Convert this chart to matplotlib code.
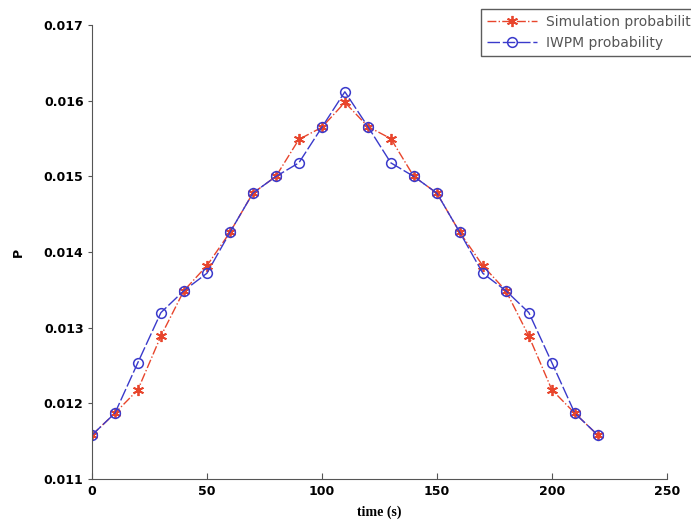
import matplotlib
matplotlib.use("Agg")
import matplotlib.pyplot as plt

time_s = [0, 10, 20, 30, 40, 50, 60, 70, 80, 90, 100, 110,
          120, 130, 140, 150, 160, 170, 180, 190, 200, 210, 220]

sim_prob = [0.01158, 0.01187, 0.01218, 0.01289, 0.01349, 0.01382, 0.01426, 0.01478,
            0.01500, 0.01549, 0.01565, 0.01598, 0.01566, 0.01550, 0.01500, 0.01478,
            0.01426, 0.01382, 0.01349, 0.01289, 0.01218, 0.01187, 0.01158]

iwpm_prob = [0.01158, 0.01187, 0.01254, 0.01320, 0.01349, 0.01372, 0.01426, 0.01478,
             0.01500, 0.01518, 0.01565, 0.01612, 0.01566, 0.01518, 0.01500, 0.01478,
             0.01426, 0.01372, 0.01349, 0.01320, 0.01254, 0.01187, 0.01158]

fig = plt.figure(figsize=(6.91, 5.32), dpi=100)
ax = fig.add_axes([0.133, 0.0996, 0.832, 0.853])

# asterisk marker: 6 spokes
ax.plot(time_s, sim_prob, color="#e8452c", linestyle="-.", linewidth=1.0,
        marker=(6, 2, 0), markersize=8, markeredgewidth=1.3,
        label="Simulation probability")
ax.plot(time_s, iwpm_prob, color="#3a3acb", linestyle=(0, (9, 2)), linewidth=1.0,
        marker="o", markersize=7, markerfacecolor="none", markeredgewidth=1.1,
        label="IWPM probability")

ax.set_xlim(0, 250)
ax.set_ylim(0.011, 0.017)
ax.set_xticks([0, 50, 100, 150, 200, 250])
ax.set_yticks([0.011, 0.012, 0.013, 0.014, 0.015, 0.016, 0.017])
ax.set_yticklabels(["0.011", "0.012", "0.013", "0.014", "0.015", "0.016", "0.017"])

ax.spines["top"].set_visible(False)
ax.spines["right"].set_visible(False)
ax.spines["left"].set_color("#555555")
ax.spines["bottom"].set_color("#555555")
ax.tick_params(axis="x", direction="in", length=4, color="#555555", pad=4)
ax.tick_params(axis="y", direction="out", length=3, color="#555555", pad=3)
for lbl in ax.get_xticklabels() + ax.get_yticklabels():
    lbl.set_fontsize(9)
    lbl.set_fontweight("bold")

ax.set_xlabel("time (s)", fontsize=10, fontweight="bold", family="Liberation Serif", labelpad=6)
ax.set_ylabel("P", fontsize=9, fontweight="bold", labelpad=14)

# legend runs off the right edge of the figure
leg = fig.legend(loc="upper left", bbox_to_anchor=(481 / 691, 1 - 9 / 532),
                 borderaxespad=0, fontsize=10, frameon=True, fancybox=False,
                 edgecolor="#333333", handlelength=3.6, handletextpad=0.6,
                 borderpad=0.45, labelspacing=0.5)
leg.get_frame().set_linewidth(1.0)
for t in leg.get_texts():
    t.set_color("#555555")

fig.savefig("out.png", dpi=100)
